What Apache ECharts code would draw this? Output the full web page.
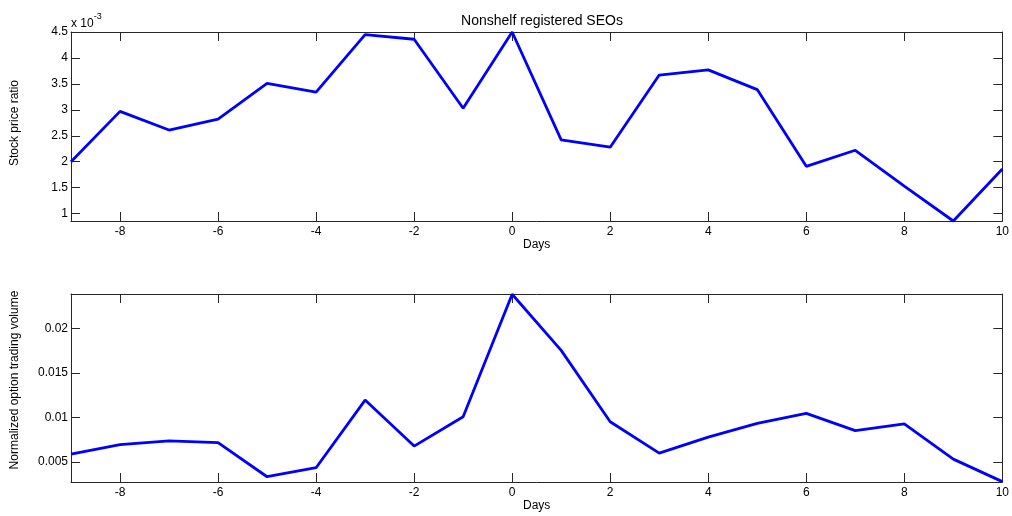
<!DOCTYPE html>
<html>
<head>
<meta charset="utf-8">
<script src="https://cdn.jsdelivr.net/npm/echarts@6/dist/echarts.min.js"></script>
<style>
html,body{margin:0;padding:0;background:#fff;}
#chart{width:1012px;height:516px;}
</style>
</head>
<body>
<div id="chart"></div>
<script>
// ---- data ----
const days = [-9,-8,-7,-6,-5,-4,-3,-2,-1,0,1,2,3,4,5,6,7,8,9,10];
// stock price ratio, in units of 1e-3
const stockRatio = [2.00,2.97,2.61,2.82,3.51,3.34,4.45,4.36,3.03,4.50,2.42,2.28,3.67,3.77,3.39,1.91,2.22,1.53,0.857,1.86];
const optionVolume = [0.0059,0.00697,0.00738,0.00719,0.00337,0.00438,0.01195,0.0068,0.01009,0.0238,0.01752,0.00953,0.00601,0.0078,0.00935,0.01047,0.00853,0.00928,0.00534,0.00282];
const xTicks = [-8,-6,-4,-2,0,2,4,6,8,10];
const topYTicks = [1,1.5,2,2.5,3,3.5,4,4.5];
const bottomYTicks = [0.005,0.01,0.015,0.02];
const titleText = 'Nonshelf registered SEOs';
const xName = 'Days';
const topYName = 'Stock price ratio';
const bottomYName = 'Normalized option trading volume';

const FONT = 'Liberation Sans, Arial, Helvetica, sans-serif';
const AX = '#262626';
const FS = 12;

function xAxes(gridIndex) {
  const base = {
    type: 'value', gridIndex, min: -9, max: 10,
    splitLine: {show: false},
    axisLine: {show: true, onZero: false, lineStyle: {color: AX, width: 1}},
  };
  return [
    Object.assign({}, base, {
      position: 'bottom',
      name: xName,
      nameLocation: 'middle', nameGap: 17,
      nameTextStyle: {color: '#000', fontFamily: FONT, fontSize: FS},
      axisTick: {show: true, inside: true, length: 9, customValues: xTicks, lineStyle: {color: AX}},
      axisLabel: {show: true, customValues: xTicks, color: '#000', fontFamily: FONT, fontSize: FS, margin: 5},
    }),
    Object.assign({}, base, {
      position: 'top',
      axisTick: {show: true, inside: true, length: 9, customValues: xTicks, lineStyle: {color: AX}},
      axisLabel: {show: false},
    })
  ];
}

function yAxes(gridIndex, min, max, ticks, fmt) {
  const base = {
    type: 'value', gridIndex, min, max,
    splitLine: {show: false},
    axisLine: {show: true, onZero: false, lineStyle: {color: AX, width: 1}},
  };
  return [
    Object.assign({}, base, {
      position: 'left',
      axisTick: {show: true, inside: true, length: 9, customValues: ticks, lineStyle: {color: AX}},
      axisLabel: {show: true, customValues: ticks, color: '#000', fontFamily: FONT, fontSize: FS, margin: 3, formatter: fmt},
    }),
    Object.assign({}, base, {
      position: 'right',
      axisTick: {show: true, inside: true, length: 9, customValues: ticks, lineStyle: {color: AX}},
      axisLabel: {show: false},
    })
  ];
}

const chart = echarts.init(document.getElementById('chart'), null, {renderer: 'canvas'});
chart.setOption({
  backgroundColor: '#fff',
  animation: false,
  title: {
    text: titleText, left: 537, top: 9, textAlign: 'center',
    textStyle: {fontFamily: FONT, fontSize: 14, fontWeight: 'normal', color: '#000'}
  },
  grid: [
    {left: 71, right: 8, top: 32, height: 189},
    {left: 71, right: 8, top: 294, height: 188}
  ],
  xAxis: [].concat(xAxes(0), xAxes(1)),
  yAxis: [].concat(
    yAxes(0, 0.857, 4.5, topYTicks, v => String(+v.toFixed(2))),
    yAxes(1, 0.00278, 0.02383, bottomYTicks, v => String(+v.toFixed(4)))
  ),
  graphic: [
    {
      type: 'text', left: 71, top: 12,
      style: {
        text: '{a|x 10}{b|-3}',
        rich: {
          a: {fontFamily: FONT, fontSize: FS, fill: '#000', padding: [6,0,0,0]},
          b: {fontFamily: FONT, fontSize: 9, fill: '#000', verticalAlign: 'top'}
        }
      }
    },
    {
      type: 'text', x: 15, y: 123, rotation: Math.PI / 2,
      style: {text: topYName, fontFamily: FONT, fontSize: FS, fill: '#000', align: 'center', verticalAlign: 'middle'}
    },
    {
      type: 'text', x: 15, y: 380, rotation: Math.PI / 2,
      style: {text: bottomYName, fontFamily: FONT, fontSize: FS, fill: '#000', align: 'center', verticalAlign: 'middle'}
    }
  ],
  series: [
    {type: 'line', xAxisIndex: 0, yAxisIndex: 0, data: days.map((d,i)=>[d, stockRatio[i]]),
     symbol: 'none', lineStyle: {color: '#0000ff', width: 2.8}, clip: false},
    {type: 'line', xAxisIndex: 2, yAxisIndex: 2, data: days.map((d,i)=>[d, optionVolume[i]]),
     symbol: 'none', lineStyle: {color: '#0000ff', width: 2.8}, clip: false}
  ]
});
</script>
</body>
</html>
